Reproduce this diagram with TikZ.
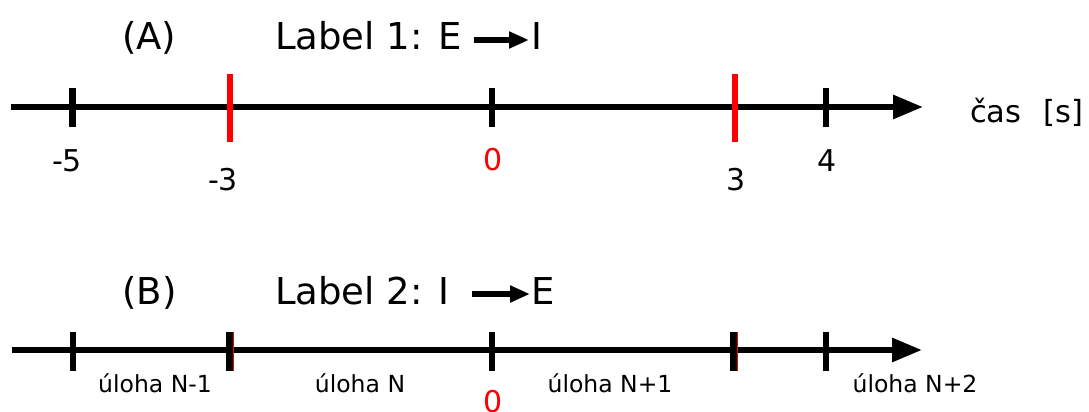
\documentclass[tikz,border=0pt]{standalone}
\usepackage{fontspec}
\setmainfont{DejaVu Sans}
\usetikzlibrary{arrows.meta,calc}
\begin{document}
\begin{tikzpicture}[x=1pt,y=-1pt,
  axis/.style={line width=6pt,-{Triangle[length=30pt,width=23pt]}},
  tickmark/.style={line width=6.5pt},
  redtick/.style={line width=6.5pt,red},
  num/.style={anchor=base,inner sep=0pt,font=\fontsize{30}{36}\selectfont},
  task/.style={anchor=base,inner sep=0pt,font=\fontsize{23.5}{28}\selectfont},
  title/.style={anchor=base west,inner sep=0pt,font=\fontsize{37}{44}\selectfont},
  titlearrow/.style={line width=5.5pt,-{Triangle[length=20pt,width=16pt]}}]
\useasboundingbox (0,0) rectangle (1089,412);

% ---------- (A) ----------
\node[title] (tA)    at (122,50) {(A)};
\node[title] (lblA)  at (275,50) {Label 1: E};
\node[title] (lblAI) at (531,50) {I};
\draw[titlearrow] ($(lblA.base east)+(12,-10)$) -- ($(lblAI.base west)+(-2,-10)$);

\coordinate (a0) at (11,107);
\coordinate (a1) at (923,107);
\draw[axis] (a0) -- (a1);

\draw[tickmark] (72.7,88) -- (72.7,127);
\draw[redtick]  (230,74) -- (230,142);
\draw[tickmark] (492,88) -- (492,127);
\draw[redtick]  (735,74) -- (735,142);
\draw[tickmark] (826,88) -- (826,127);

\node[num] (nm5) at (67,171) {-5};
\node[num] (nm3) at (223,190) {-3};
\node[num,red] (n0) at (493,170) {0};
\node[num] (n3) at (736,190) {3};
\node[num] (n4) at (827,171) {4};

\node[anchor=base west,inner sep=0pt,font=\fontsize{30.5}{36}\selectfont] (cas) at (970,122) {čas\hspace{22pt}[s]};

% ---------- (B) ----------
\node[title] (tB)    at (122,304) {(B)};
\node[title] (lblB)  at (275,304) {Label 2: I};
\node[title] (lblBE) at (531,304) {E};
\draw[titlearrow] ($(lblB.base east)+(22,-10)$) -- ($(lblBE.base west)+(-1,-10)$);

\coordinate (b0) at (12,350);
\coordinate (b1) at (922,350);
\draw[axis] (b0) -- (b1);

\draw[tickmark] (73,332) -- (73,371);
\draw[redtick]  (230.5,332) -- (230.5,371);
\draw[tickmark] (229.5,332) -- (229.5,371);
\draw[tickmark] (492,332) -- (492,371);
\draw[redtick]  (734.5,332) -- (734.5,371);
\draw[tickmark] (733.5,332) -- (733.5,371);
\draw[tickmark] (826,332) -- (826,371);

\node[task] (u1) at (155,392) {úloha N-1};
\node[task] (u2) at (360,392) {úloha N};
\node[task] (u3) at (610,392) {úloha N+1};
\node[task] (u4) at (915,392) {úloha N+2};
\node[num,red] (b0lbl) at (493,412) {0};
\end{tikzpicture}
\end{document}
